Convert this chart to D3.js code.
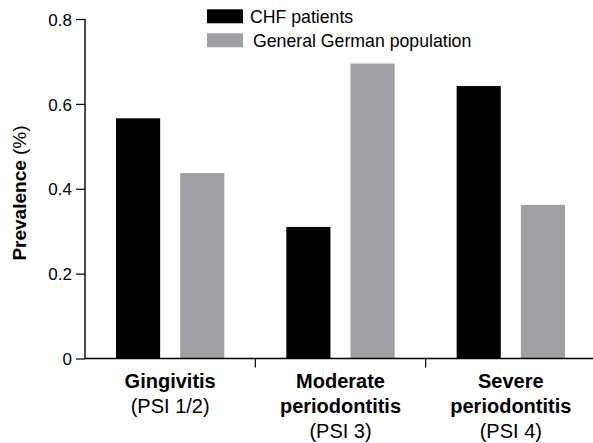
<!DOCTYPE html>
<html>
<head>
<meta charset="utf-8">
<script src="https://cdn.jsdelivr.net/npm/d3@7"></script>
<style>
  body { margin: 0; background: #fff; }
  text { font-family: "Liberation Sans", Arial, sans-serif; fill: #000; }
</style>
</head>
<body>
<svg id="chart" width="593" height="443"></svg>
<script>
// chart data
const categories = ["Gingivitis", "Moderate periodontitis", "Severe periodontitis"];
const categoryLines = [
    [["Gingivitis", true], ["(PSI 1/2)", false]],
    [["Moderate", true], ["periodontitis", true], ["(PSI 3)", false]],
    [["Severe", true], ["periodontitis", true], ["(PSI 4)", false]]
];
const seriesNames = ["CHF patients", "General German population"];
const chfValues = [0.566, 0.31, 0.642];
const germanValues = [0.437, 0.695, 0.362];
const yTicks = [0, 0.2, 0.4, 0.6, 0.8];

const colors = ["#000000", "#a0a0a4"];

const svg = d3.select("#chart");
const plotLeft = 85, plotRight = 596, plotTop = 19, plotBottom = 358.5;

const y = d3.scaleLinear().domain([0, 0.8]).range([plotBottom, plotTop]);
const x0 = d3.scaleBand().domain(categories).range([plotLeft, plotRight]).padding(0);
const x1 = d3.scaleBand().domain(seriesNames)
    .range([31, x0.bandwidth() - 31]).paddingInner(0.3125);

const rows = categories.map((c, i) => ({ cat: c, vals: [chfValues[i], germanValues[i]] }));

// bars
const groups = svg.append("g")
    .selectAll("g")
    .data(rows)
    .join("g")
    .attr("transform", d => `translate(${x0(d.cat)},0)`);

groups.selectAll("rect")
    .data(d => d.vals.map((v, j) => ({ name: seriesNames[j], v, j })))
    .join("rect")
    .attr("x", d => x1(d.name))
    .attr("width", x1.bandwidth())
    .attr("y", d => y(d.v))
    .attr("height", d => plotBottom - y(d.v))
    .attr("fill", d => colors[d.j]);

// y axis
const yAxis = svg.append("g")
    .attr("transform", `translate(${plotLeft},0)`)
    .call(d3.axisLeft(y).tickValues(yTicks).tickSize(9).tickPadding(4)
        .tickFormat(d => d === 0 ? "0" : d3.format(".1f")(d)));
yAxis.select(".domain").attr("d", `M0,${plotTop}V${plotBottom}`).attr("stroke-width", 1.4);
yAxis.selectAll(".tick line").attr("stroke-width", 1.2);
yAxis.selectAll("text").style("font-size", "17px").attr("dy", "0.36em");

// x axis baseline + category separators
svg.append("line")
    .attr("x1", plotLeft).attr("x2", plotRight)
    .attr("y1", plotBottom).attr("y2", plotBottom)
    .attr("stroke", "#000").attr("stroke-width", 1.4);

svg.append("g")
    .selectAll("line")
    .data(categories.slice(1))
    .join("line")
    .attr("x1", d => x0(d)).attr("x2", d => x0(d))
    .attr("y1", plotBottom).attr("y2", plotBottom + 9)
    .attr("stroke", "#000").attr("stroke-width", 1.2);

// category labels
const labels = svg.append("g")
    .selectAll("text")
    .data(rows.map((r, i) => ({ cat: r.cat, lines: categoryLines[i] })))
    .join("text")
    .attr("text-anchor", "middle")
    .attr("x", d => x0(d.cat) + x0.bandwidth() / 2)
    .style("font-size", "20px");

labels.selectAll("tspan")
    .data(d => d.lines.map(l => ({ t: l[0], bold: l[1], x: x0(d.cat) + x0.bandwidth() / 2 })))
    .join("tspan")
    .attr("x", d => d.x)
    .attr("y", (d, i) => 387.5 + i * 25)
    .style("font-weight", d => d.bold ? "bold" : "normal")
    .text(d => d.t);

// y title
const yTitle = svg.append("text")
    .attr("transform", "translate(26,193) rotate(-90)")
    .attr("text-anchor", "middle")
    .style("font-size", "19px");
yTitle.append("tspan").style("font-weight", "bold").text("Prevalence");
yTitle.append("tspan").text(" (%)");

// legend
const legend = svg.append("g")
    .selectAll("g")
    .data(seriesNames)
    .join("g")
    .attr("transform", (d, i) => `translate(207,${9.3 + i * 24})`);

legend.append("rect")
    .attr("width", 36).attr("height", 14)
    .attr("fill", (d, i) => colors[i]);

legend.append("text")
    .attr("x", (d, i) => i === 0 ? 43 : 46)
    .attr("y", 13.6)
    .style("font-size", "17.7px")
    .text(d => d);
</script>
</body>
</html>
